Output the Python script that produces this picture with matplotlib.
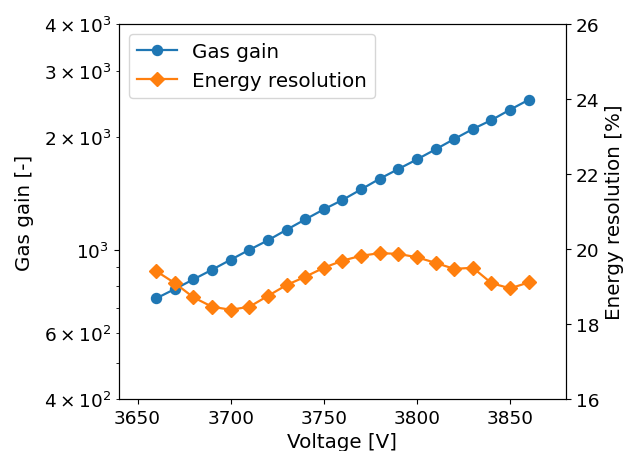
import matplotlib
matplotlib.use("Agg")
import matplotlib.pyplot as plt

# Measured detector response versus applied voltage
voltage = [3660, 3670, 3680, 3690, 3700, 3710, 3720, 3730, 3740, 3750, 3760,
           3770, 3780, 3790, 3800, 3810, 3820, 3830, 3840, 3850, 3860]
gas_gain = [742, 786, 834, 885, 941, 1000, 1060, 1131, 1205, 1282, 1358,
            1449, 1547, 1642, 1742, 1853, 1974, 2099, 2218, 2364, 2512]
energy_resolution = [19.41, 19.09, 18.71, 18.46, 18.38, 18.46, 18.75, 19.04, 19.26,
                     19.50, 19.69, 19.82, 19.89, 19.87, 19.78, 19.63, 19.47, 19.50,
                     19.09, 18.95, 19.11]

plt.rcParams["font.size"] = 14.3
plt.rcParams["xtick.labelsize"] = 13.3
plt.rcParams["ytick.labelsize"] = 13.3

fig = plt.figure(figsize=(6.23, 4.52), dpi=100)
ax = fig.add_axes([0.191, 0.115, 0.7175, 0.8297])
ax2 = ax.twinx()

l1, = ax.plot(voltage, gas_gain, marker="o", color="C0", markersize=7.2,
              linewidth=1.6, label="Gas gain")
l2, = ax2.plot(voltage, energy_resolution, marker="D", color="C1", markersize=7.2,
               linewidth=1.6, label="Energy resolution")

ax.set_yscale("log")
ax.set_ylim(400, 4000)
ax.set_xlim(3640, 3880)
ax2.set_ylim(16, 26)

ax.set_xlabel("Voltage [V]", labelpad=4)
ax.set_ylabel("Gas gain [-]", labelpad=7)
ax2.set_ylabel("Energy resolution [%]")

ax.legend(handles=[l1, l2], loc="upper left")

fig.savefig("out.png", dpi=100)
